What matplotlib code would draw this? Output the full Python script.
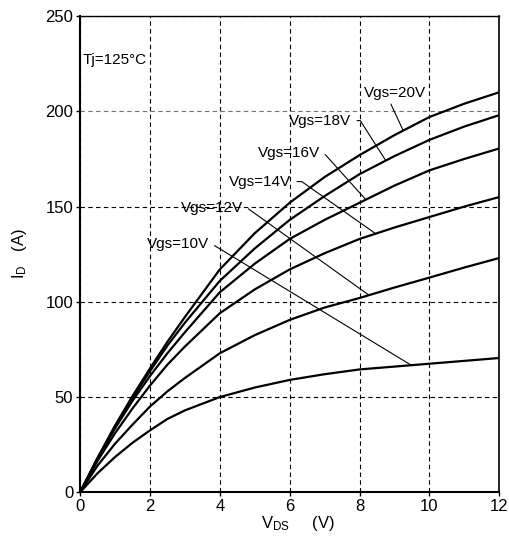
import numpy as np
import matplotlib
matplotlib.use('Agg')
import matplotlib.pyplot as plt

plt.rcParams['font.family'] = ['Liberation Sans', 'DejaVu Sans']
plt.rcParams['mathtext.fontset'] = 'custom'
plt.rcParams['mathtext.rm'] = 'Liberation Sans'
plt.rcParams['mathtext.it'] = 'Liberation Sans'

# V_DS (V)
vds = [0, 0.5, 1, 1.5, 2, 2.5, 3, 4, 5, 6, 7, 8, 9, 10, 11, 12]
# I_D (A) for each gate voltage
id_20v = [0, 18, 35, 50.5, 65, 79, 92, 117, 136, 152, 165.5, 177, 187.5, 197, 204, 210]
id_18v = [0, 18, 34.5, 49.5, 63.5, 77, 89, 111, 128, 143, 155.5, 167, 176.5, 185, 192, 198]
id_16v = [0, 17.5, 33.5, 48, 61, 73, 84, 105, 120, 133, 143, 152, 161, 169, 175, 180.5]
id_14v = [0, 16.5, 31, 44, 56, 67, 76.5, 94, 106.5, 117, 125.5, 133, 139, 144.5, 150, 155]
id_12v = [0, 14, 25.5, 35.5, 45, 53, 60, 73, 82.5, 90.5, 97, 102, 107.5, 112.7, 118, 123]
id_10v = [0, 10, 18.5, 26, 32.5, 38.5, 43, 50, 55, 59, 62, 64.5, 66, 67.5, 69, 70.5]

labels = ['Vgs=20V', 'Vgs=18V', 'Vgs=16V', 'Vgs=14V', 'Vgs=12V', 'Vgs=10V']
curves = [id_20v, id_18v, id_16v, id_14v, id_12v, id_10v]

fig = plt.figure(figsize=(5.1, 5.4), dpi=100)
ax = fig.add_axes([0.157, 0.0883, 0.822, 0.882])

for c in curves:
    ax.plot(vds, c, color='black', lw=1.6, solid_capstyle='round')

ax.set_xlim(0, 12)
ax.set_ylim(0, 250)
ax.set_xticks(range(0, 13, 2))
ax.set_yticks(range(0, 251, 50))
ax.tick_params(direction='out', length=3, width=1, labelsize=12, pad=2, color='black')

ax.grid(True, color='black', ls=(0, (4, 3)), lw=0.8)
ygl = ax.get_ygridlines()
ygl[4].set_color('0.45')

for s in ['left', 'bottom']:
    ax.spines[s].set_linewidth(1.5)
ax.spines['top'].set_linewidth(1.0)
ax.spines['right'].set_linewidth(1.2)

ax.set_xlabel(r'$\mathregular{V_{DS}}$     (V)', fontsize=12, labelpad=0)
ax.xaxis.set_label_coords(0.52, -0.045)
ax.set_ylabel(r'$\mathregular{I_{D}}$   (A)', fontsize=12, labelpad=12)

ax.text(0.08, 227, 'Tj=125°C', fontsize=11, ha='left', va='center')

# label text centre, point on curve (x), angle of the leader's diagonal
ann = [
    ((9.02, 209.6), 9.25, None),
    ((6.88, 195.1), 8.75, -57.5),
    ((5.99, 178.3), 8.18, -48),
    ((5.16, 163.1), 8.46, -35.2),
    ((3.77, 149.1), 8.27, -35.6),
    ((2.81, 130.2), 9.48, -31.3),
]
for lab, c, (txy, px, ang) in zip(labels, curves, ann):
    py = np.interp(px, vds, c)
    if ang is None:
        props = dict(arrowstyle='-', lw=0.8, color='black', shrinkA=1, shrinkB=0,
                     relpos=(0.4, 0.0))
    else:
        props = dict(arrowstyle='-', lw=0.8, color='black', shrinkA=2, shrinkB=0,
                     relpos=(1.0, 0.5),
                     connectionstyle='angle,angleA=0,angleB=%g,rad=0' % ang)
    ax.annotate(lab, xy=(px, py), xytext=txy, textcoords='data', fontsize=11,
                ha='center', va='center', arrowprops=props)

fig.savefig('out.png', dpi=100)
